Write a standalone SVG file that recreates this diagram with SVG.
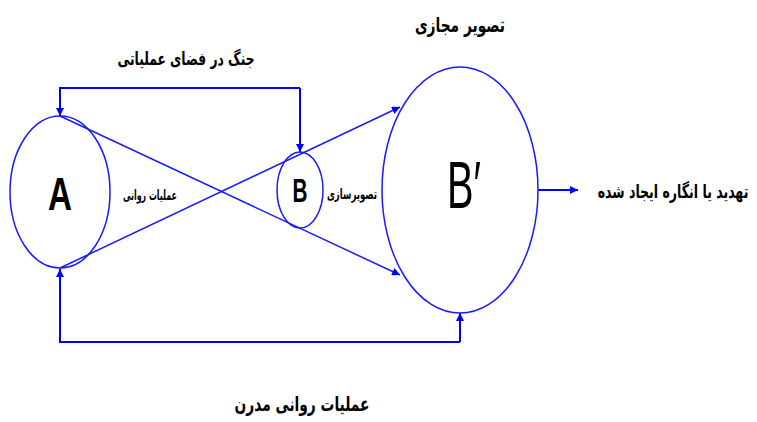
<svg xmlns="http://www.w3.org/2000/svg" width="757" height="422" viewBox="0 0 757 422">
<defs>
<marker id="ah" viewBox="0 0 10 10" refX="10" refY="5" markerWidth="8" markerHeight="8" markerUnits="userSpaceOnUse" orient="auto">
<path d="M0,0 L10,5 L0,10 z" fill="#0000ff"/>
</marker>
</defs>
<style>
.shape{fill:none;stroke:#1a1aff;stroke-width:1.5}
.conn{fill:none;stroke:#0000ff;stroke-width:2}
.fa{font-family:"DejaVu Sans",sans-serif;font-weight:bold;fill:#000;text-anchor:middle}
.big{font-family:"Liberation Sans",Arial,sans-serif;fill:#000;text-anchor:middle}
</style>
<rect width="757" height="422" fill="#fff"/>
<g id="connectors">
<line class="shape" x1="60" y1="116" x2="400" y2="275" marker-end="url(#ah)"/>
<line class="shape" x1="60" y1="268" x2="400" y2="107" marker-end="url(#ah)"/>
<polyline class="conn" points="300,88 60,88 60,116" marker-end="url(#ah)"/>
<line class="conn" x1="300" y1="88" x2="300" y2="152" marker-end="url(#ah)"/>
<polyline class="conn" points="460,342 60,342 60,269" marker-end="url(#ah)"/>
<line class="conn" x1="460" y1="342" x2="460" y2="313" marker-end="url(#ah)"/>
<line class="conn" x1="538" y1="190" x2="578" y2="190" marker-end="url(#ah)"/>
</g>
<g id="nodeA">
<ellipse class="shape" cx="60" cy="192" rx="50" ry="76"/>
<text class="big" x="60" y="210" font-size="46" font-weight="bold" textLength="24" lengthAdjust="spacingAndGlyphs">A</text>
</g>
<g id="nodeB">
<ellipse class="shape" cx="300" cy="190" rx="23" ry="38"/>
<text class="big" x="300" y="202" font-size="33" font-weight="bold" textLength="15" lengthAdjust="spacingAndGlyphs">B</text>
</g>
<g id="nodeBprime">
<ellipse class="shape" cx="460" cy="190" rx="78" ry="123"/>
<text class="big" x="464" y="208" font-size="66" textLength="34" lengthAdjust="spacingAndGlyphs">B′</text>
</g>
<g id="labels">
<text class="fa" x="460" y="32" font-size="20" textLength="90" lengthAdjust="spacingAndGlyphs">تصویر مجازی</text>
<text class="fa" x="186" y="65" font-size="18" textLength="137" lengthAdjust="spacingAndGlyphs">جنگ در فضای عملیاتی</text>
<text class="fa" x="150" y="200" font-size="14" textLength="54" lengthAdjust="spacingAndGlyphs">عملیات روانی</text>
<text class="fa" x="352" y="199" font-size="14" textLength="50" lengthAdjust="spacingAndGlyphs">تصویرسازی</text>
<text class="fa" x="0" y="0" font-size="19" transform="translate(673,198) scale(0.66,1)">تهدید یا انگاره ایجاد شده</text>
<text class="fa" x="302" y="411" font-size="20" textLength="135" lengthAdjust="spacingAndGlyphs">عملیات روانی مدرن</text>
</g>
</svg>
